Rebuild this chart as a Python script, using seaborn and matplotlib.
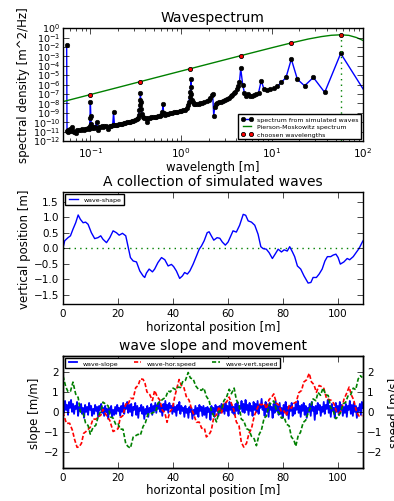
import numpy as np
import matplotlib
matplotlib.use("Agg")
import matplotlib.pyplot as plt
import seaborn as sns
from matplotlib.ticker import LogLocator, NullLocator, MultipleLocator

# spectrum from simulated waves (wavelength [m], log10 of spectral density)
spec_wl = [0.0548, 0.0553, 0.0560, 0.0570, 0.0580, 0.0592, 0.0605, 0.062, 0.064, 0.0665,
           0.0697, 0.072, 0.075, 0.078, 0.081, 0.084, 0.087, 0.090, 0.093, 0.096,
           0.098, 0.099, 0.100, 0.101, 0.102, 0.104, 0.107, 0.110, 0.113, 0.117,
           0.121, 0.124, 0.128, 0.133, 0.138, 0.143, 0.150, 0.158, 0.163, 0.170,
           0.176, 0.180, 0.184, 0.190, 0.198, 0.206, 0.215, 0.224, 0.233, 0.243,
           0.253, 0.263, 0.274, 0.285, 0.297, 0.310, 0.322, 0.332, 0.340, 0.346,
           0.350, 0.353, 0.356, 0.359, 0.363, 0.370, 0.380, 0.392, 0.405, 0.420,
           0.432, 0.450, 0.470, 0.490, 0.510, 0.530, 0.555, 0.580, 0.605, 0.620,
           0.630, 0.640, 0.660, 0.690, 0.720, 0.750, 0.790, 0.830, 0.870, 0.910,
           0.960, 1.00, 1.05, 1.10, 1.15, 1.19, 1.22, 1.24, 1.26, 1.27,
           1.28, 1.29, 1.31, 1.34, 1.38, 1.42, 1.48, 1.55, 1.62, 1.70,
           1.80, 1.90, 2.00, 2.10, 2.18, 2.22, 2.28, 2.34, 2.40, 2.50,
           2.62, 2.75, 2.90, 3.05, 3.20, 3.35, 3.50, 3.65, 3.80, 3.95,
           4.10, 4.25, 4.38, 4.52, 4.75, 4.96, 5.18, 5.43, 5.70, 6.00,
           6.33, 6.70, 7.10, 7.60, 8.14, 8.77, 9.50, 10.4, 11.4, 12.7,
           14.25, 16.3, 19.0, 22.8, 28.5, 38.0, 57.0, 114.0]
spec_log10 = [-1.77, -10.9, -11.0, -10.85, -10.95, -10.75, -10.9, -10.55, -10.95, -11.0,
              -11.1, -10.85, -10.8, -10.85, -10.75, -10.8, -10.7, -10.75, -10.65, -10.7,
              -10.4, -9.6, -7.8, -9.3, -10.2, -10.6, -10.55, -10.6, -10.5, -9.95,
              -10.8, -10.5, -10.5, -10.45, -10.5, -10.4, -10.45, -10.7, -10.4, -10.35,
              -10.3, -8.95, -10.3, -10.25, -10.25, -10.2, -10.15, -10.15, -10.1, -10.05,
              -10.0, -9.95, -9.95, -9.9, -9.85, -9.8, -9.7, -9.5, -9.2, -8.7,
              -8.2, -7.6, -6.94, -7.8, -8.6, -9.1, -9.4, -9.5, -9.6, -10.0,
              -9.55, -9.5, -9.45, -9.45, -9.4, -9.4, -9.35, -9.3, -9.2, -8.9,
              -8.07, -9.0, -9.2, -9.15, -9.1, -9.05, -9.0, -8.95, -8.95, -8.9,
              -8.85, -8.85, -8.75, -8.65, -8.5, -8.2, -7.8, -7.3, -6.8, -6.3,
              -5.43, -7.0, -7.6, -7.9, -8.05, -8.1, -8.1, -8.05, -8.0, -7.95,
              -7.85, -7.75, -7.6, -7.4, -7.15, -7.0, -9.3, -8.4, -8.1, -7.95,
              -7.85, -7.8, -7.7, -7.6, -7.5, -7.4, -7.25, -7.1, -6.9, -6.75,
              -6.5, -6.2, -5.7, -4.29, -6.0, -6.86, -7.2, -7.0, -7.2, -7.2,
              -7.1, -7.05, -6.86, -5.6, -6.45, -6.6, -6.5, -6.4, -6.2, -5.75,
              -5.24, -3.3, -5.43, -6.13, -5.24, -6.83, -2.69, -7.3]

# Pierson-Moskowitz spectrum
pm_wl = [0.05, 0.1, 0.2, 0.5, 1.0, 2.0, 5.0, 10.0, 16.0, 25.0, 35.0, 45.0, 57.0, 70.0, 85.0, 100.0]
pm_log10 = [-7.81, -7.06, -6.31, -5.31, -4.56, -3.81, -2.82, -2.08, -1.59, -1.16,
            -0.90, -0.76, -0.71, -0.77, -1.0, -1.3]

# chosen wavelengths
chosen_wl = [0.1, 0.356, 1.25, 4.5, 16.0, 57.0]
chosen_log10 = [-7.06, -5.68, -4.32, -2.93, -1.60, -0.71]

# simulated wave shape
wave_x = [0.0, 0.6, 1.8, 2.7, 3.6, 4.6, 5.5, 6.3, 7.3, 8.2, 9.1, 10.3, 11.5, 12.7, 13.7,
          14.5, 15.8, 17.0, 18.2, 19.4, 20.4, 21.6, 22.8, 23.6, 24.5, 25.5, 26.7, 27.9,
          29.1, 29.7, 30.3, 31.3, 32.5, 33.3, 34.5, 35.8, 37.0, 38.2, 39.4, 40.2, 41.2,
          42.4, 43.4, 44.2, 45.2, 46.1, 47.3, 48.5, 49.5, 50.3, 51.3, 52.4, 53.1, 53.9,
          54.8, 56.0, 57.0, 57.9, 59.0, 60.0, 61.0, 61.8, 63.0, 64.2, 65.5, 66.4, 67.3,
          68.5, 69.7, 70.9, 71.9, 72.7, 73.9, 74.9, 76.1, 77.1, 78.2, 79.4, 80.4, 81.5,
          82.4, 83.4, 84.2, 85.2, 86.4, 87.6, 89.1, 90.1, 90.9, 92.1, 93.1, 94.2, 95.2,
          96.1, 97.3, 98.2, 99.2, 100.0, 100.8, 102.1, 103.3, 104.2, 105.5, 106.7,
          107.6, 108.8, 109.5]
wave_y = [0.00, 0.24, 0.34, 0.40, 0.61, 0.82, 1.07, 0.93, 0.82, 0.84, 0.77, 0.50, 0.31,
          0.34, 0.40, 0.29, 0.18, 0.34, 0.56, 0.50, 0.42, 0.48, 0.40, 0.07, -0.30, -0.41,
          -0.44, -0.73, -0.89, -0.94, -0.80, -0.67, -0.76, -0.67, -0.46, -0.30, -0.37,
          -0.57, -0.52, -0.59, -0.73, -0.97, -0.89, -0.78, -0.83, -0.73, -0.51, -0.25,
          -0.03, 0.07, 0.24, 0.50, 0.53, 0.40, 0.26, 0.34, 0.32, 0.20, 0.10, 0.20, 0.40,
          0.56, 0.52, 0.74, 1.09, 1.06, 0.88, 0.84, 0.74, 0.45, 0.05, -0.01, -0.03, -0.14,
          -0.33, -0.19, -0.03, -0.12, -0.05, -0.09, 0.05, -0.12, -0.27, -0.57, -0.67,
          -0.89, -1.12, -1.10, -0.94, -0.94, -0.83, -0.67, -0.41, -0.27, -0.27, -0.22,
          -0.19, -0.30, -0.51, -0.44, -0.33, -0.37, -0.27, -0.12, -0.01, 0.20, 0.30]

# wave slope (left axis), evenly spaced along 0..109 m
slope = [0.45, -0.05, 0.55, 0.1, 0.35, -0.15, 0.5, 0.2, 0.6, 0.0, 0.4, -0.1, 0.3, 0.15, 0.5, -0.2, 0.25, 0.05, 0.4, -0.1,
         0.2, -0.3, 0.35, 0.0, 0.25, -0.15, 0.45, 0.1, 0.3, -0.2, 0.15, -0.1, 0.35, 0.05, 0.25, -0.25, 0.3, 0.1, 0.4, -0.05,
         0.2, -0.2, 0.3, 0.0, 0.15, -0.35, 0.2, -0.05, 0.3, -0.25, 0.1, -0.15, 0.25, -0.1, 0.35, 0.05, 0.2, -0.2, 0.3, 0.0,
         0.45, -0.1, 0.3, 0.15, 0.5, -0.05, 0.35, 0.0, 0.4, -0.2, 0.25, 0.1, 0.45, -0.15, 0.3, -0.3, 0.2, 0.05, 0.35, -0.1,
         0.25, -0.35, 0.15, -0.1, 0.3, -0.25, 0.2, 0.0, 0.4, -0.15, 0.3, 0.05, 0.45, -0.05, 0.35, 0.15, 0.5, 0.0, 0.3, -0.2,
         0.4, 0.05, 0.55, 0.1, 0.35, -0.05, 0.45, 0.2, 0.3, -0.1, 0.4, 0.0, 0.25, -0.2, 0.35, 0.1, 0.5, -0.1, 0.3, 0.05,
         0.2, -0.25, 0.3, -0.05, 0.15, -0.3, 0.25, 0.0, 0.2, -0.35, 0.1, -0.15, 0.3, -0.1, 0.2, -0.25, 0.35, 0.05, 0.25, -0.2,
         0.3, -0.15, 0.2, -0.3, 0.25, 0.0, 0.15, -0.4, 0.3, -0.1, 0.2, -0.25, 0.35, 0.05, 0.25, -0.2, 0.3, -0.05, 0.4, 0.0,
         0.35, -0.1, 0.45, 0.05, 0.3, -0.2, 0.5, 0.1, 0.35, -0.05, 0.25, -0.15, 0.4, 0.05, 0.5, -0.1, 0.3, 0.15, 0.55, 0.0,
         0.4, -0.05, 0.6, 0.1, 0.35, -0.15, 0.45, 0.05, 0.3, -0.2, 0.5, 0.1, 0.4, 0.0, 0.55, -0.1, 0.35, 0.2, 0.65, 0.1,
         0.3, -0.2, 0.5, 0.0, 0.35, -0.25, 0.45, 0.1, 0.25, -0.3, 0.4, -0.05, 0.55, 0.05, 0.3, -0.15, 0.45, -0.1, 0.2, -0.3,
         0.35, 0.0, 0.5, -0.15, 0.25, -0.35, 0.3, 0.05, 0.45, -0.2, 0.2, -0.1, 0.4, 0.1, 0.55, -0.05, 0.3, -0.25, 0.35, 0.05,
         0.45, -0.15, 0.3, -0.3, 0.2, 0.0, 0.4, -0.2, 0.5, 0.05, 0.25, -0.4, 0.3, -0.1, 0.45, 0.1, 0.35, -0.2, 0.25, 0.0,
         0.5, -0.1, 0.35, 0.15, 0.6, -0.05, 0.3, -0.25, 0.4, 0.05, 0.2, -0.3, 0.45, 0.0, 0.3, -0.15, 0.5, 0.1, 0.35, -0.2,
         0.25, -0.05, 0.4, -0.25, 0.3, 0.1, 0.55, -0.1, 0.35, -0.2, 0.45, 0.0, 0.3, -0.3, 0.2, 0.05, 0.4, -0.15, 0.5, 0.2]

# horizontal speed (right axis)
hor_x = [0.0, 1.2, 2.4, 3.4, 4.2, 5.1, 5.8, 6.7, 7.5, 8.2, 9.1, 9.9, 10.9, 11.9, 12.8, 13.7,
         14.5, 15.8, 17.0, 18.2, 19.2, 20.0, 20.8, 21.8, 22.8, 23.6, 24.5, 25.5, 26.4, 27.3,
         28.1, 29.1, 29.8, 30.5, 31.5, 32.5, 33.3, 34.2, 35.2, 36.1, 37.0, 37.8, 38.8, 39.8,
         40.6, 41.5, 42.2, 43.0, 43.9, 44.8, 45.8, 46.7, 47.5, 48.5, 49.5, 50.4, 51.4, 52.1,
         53.1, 53.9, 54.8, 55.8, 56.7, 57.6, 58.4, 59.4, 60.4, 61.2, 62.1, 63.0, 64.0, 64.8,
         65.7, 66.7, 67.6, 68.5, 69.5, 70.3, 71.3, 72.1, 73.1, 73.9, 74.9, 75.8, 76.6, 77.6,
         78.5, 79.4, 80.4, 81.2, 82.2, 83.0, 83.9, 84.8, 85.7, 86.7, 87.5, 88.5, 89.5, 90.3,
         91.2, 92.1, 93.1, 93.9, 94.8, 95.8, 96.7, 97.6, 98.5, 99.4, 100.4, 101.2, 102.1,
         103.0, 104.0, 104.8, 105.7, 106.7, 107.6, 108.8]
hor_speed = [-0.01, -0.57, -0.57, -0.92, -1.38, -1.77, -1.76, -1.57, -1.07, -1.00, -0.88, -0.77,
             -0.35, -0.37, -0.24, -0.17, 0.12, -0.18, -0.43, -0.98, -0.91, -0.84, -0.29, -0.18,
             0.40, 0.35, 0.68, 0.66, 1.21, 1.32, 1.65, 1.63, 1.43, 1.00, 0.87, 0.57, 1.07, 0.77,
             0.59, 0.08, -0.04, -0.52, -0.01, 0.18, 0.76, 1.25, 1.62, 1.32, 1.24, 0.77, 0.59,
             0.16, -0.13, -0.52, -0.51, -0.82, -0.82, -1.25, -1.13, -0.93, -0.26, -0.15, 0.26,
             -0.09, 0.46, 0.48, 0.74, 0.43, 0.09, -0.50, -0.71, -1.52, -1.76, -1.57, -1.07,
             -0.84, -0.21, 0.07, 0.40, 0.35, 0.43, 0.16, 0.62, 0.73, 0.90, 0.43, 0.34, 0.00,
             0.04, -0.18, 0.32, 0.18, 0.43, 0.50, 0.96, 1.07, 1.49, 1.60, 1.93, 1.50, 1.37,
             0.98, 1.32, 1.27, 1.18, 0.66, 0.62, 0.57, 0.40, 0.02, -0.07, 0.08, 0.62, 0.90,
             1.24, 0.85, 0.59, 0.00, -0.21, -0.18]

# vertical speed (right axis)
vert_x = [0.0, 1.0, 1.8, 2.7, 3.6, 4.6, 5.5, 6.3, 7.3, 8.2, 9.1, 9.9, 10.9, 11.9, 12.8, 13.7,
          14.5, 15.5, 16.4, 17.2, 18.2, 19.2, 20.0, 20.8, 21.8, 22.8, 23.6, 24.5, 25.5, 26.4,
          27.3, 28.1, 29.1, 29.9, 30.9, 31.8, 32.7, 33.7, 34.5, 35.4, 36.4, 37.3, 38.2, 39.0,
          40.0, 41.0, 41.8, 42.7, 43.6, 44.5, 45.5, 46.3, 47.3, 48.2, 49.2, 50.3, 51.2, 52.1,
          53.1, 53.9, 54.8, 55.8, 56.7, 57.6, 58.5, 59.4, 60.4, 61.2, 62.2, 63.0, 64.0, 64.8,
          65.7, 66.7, 67.6, 68.5, 69.5, 70.3, 71.3, 72.1, 73.1, 73.9, 74.9, 75.8, 76.6, 77.6,
          78.5, 79.4, 80.4, 81.2, 82.2, 83.0, 83.9, 84.6, 85.5, 86.3, 87.3, 88.2, 89.1, 89.9,
          90.9, 91.9, 92.7, 93.6, 94.5, 95.5, 96.4, 97.3, 98.2, 99.2, 100.0, 100.8, 101.8,
          102.7, 103.6, 104.5, 105.5, 106.4, 107.3, 108.1, 108.8]
vert_speed = [1.80, 1.25, 1.02, 1.03, 1.49, 0.89, 0.72, 0.00, -0.06, -0.56, -0.68, -1.11,
              -0.78, -0.67, -0.23, 0.03, 0.49, 0.39, 0.30, -0.25, -0.31, -0.64, -0.60, -0.86,
              -0.87, -1.59, -1.73, -1.81, -1.26, -1.19, -1.12, -1.17, -0.73, -0.56, -0.10,
              -0.11, -0.03, 0.00, 0.44, 0.53, 0.65, 0.72, 1.05, 1.00, 1.19, 1.11, 1.24, 1.22,
              1.55, 1.58, 1.97, 1.69, 1.65, 1.31, 1.13, 1.08, 1.19, 0.78, 0.57, 0.06, -0.20,
              -0.50, 0.02, 0.11, 0.57, 0.72, 1.13, 0.91, 1.19, 0.61, 0.32, -0.36, -0.45,
              -0.84, -0.90, -1.22, -1.35, -1.69, -1.12, -0.92, -0.31, -0.22, 0.32, 0.47, 0.55,
              0.08, -0.06, -0.31, -0.26, -0.61, -0.70, -1.25, -1.40, -1.72, -1.18, -1.03,
              -0.53, -0.42, -0.06, 0.19, 0.65, 0.56, 0.97, 0.83, 1.19, 0.86, 0.82, 0.22, 0.05,
              -0.34, -0.23, -0.06, 0.40, 0.47, 0.80, 0.83, 1.19, 1.11, 1.65, 1.81, 1.72]

plt.style.use("classic")
plt.rcParams["font.family"] = ["DejaVu Sans"]
plt.rcParams["mathtext.default"] = "regular"
plt.rcParams["figure.facecolor"] = "white"
plt.rcParams["savefig.facecolor"] = "white"
plt.rcParams["xtick.labelsize"] = 7.5
plt.rcParams["ytick.labelsize"] = 7.5
plt.rcParams["xtick.major.pad"] = 3
plt.rcParams["ytick.major.pad"] = 3
plt.rcParams["axes.labelsize"] = 8.5
plt.rcParams["axes.labelpad"] = 1
plt.rcParams["axes.titlesize"] = 10
plt.rcParams["legend.fontsize"] = 4.5

fig = plt.figure(figsize=(3.94, 5.02), dpi=100)
ax1 = fig.add_axes([0.160, 0.717, 0.761, 0.225])
ax2 = fig.add_axes([0.160, 0.392, 0.761, 0.223])
ax3 = fig.add_axes([0.160, 0.066, 0.761, 0.223])

# --- wavespectrum ---
ax1.set_xscale("log")
ax1.set_yscale("log")
sns.lineplot(x=spec_wl, y=np.power(10.0, spec_log10), ax=ax1, color="b", lw=1,
             marker="o", ms=3.3, mfc="k", mec="k", mew=0.4, estimator=None, sort=False)
sns.lineplot(x=pm_wl, y=np.power(10.0, pm_log10), ax=ax1, color="g", lw=1,
             estimator=None, sort=False)
sns.lineplot(x=chosen_wl, y=np.power(10.0, chosen_log10), ax=ax1, color="r", ls="none",
             marker="o", ms=3, mfc="r", mec="k", mew=0.6, estimator=None, sort=False)
ax1.vlines(chosen_wl[-1], 1e-12, 10 ** chosen_log10[-1], colors="g", linestyles=":", lw=1)
ax1.set_xlim(0.05, 100)
ax1.set_ylim(1e-12, 1)
ax1.yaxis.set_major_locator(LogLocator(base=10, subs=(1.0,), numticks=20))
ax1.yaxis.set_minor_locator(NullLocator())
ax1.tick_params(axis="y", labelsize=6.8, pad=2)
ax1.set_title("Wavespectrum")
ax1.set_xlabel("wavelength [m]")
ax1.set_ylabel("spectral density [m^2/Hz]", labelpad=2)
ax1.legend(ax1.lines[:3],
           ["spectrum from simulated waves", "Pierson-Moskowitz spectrum", "choosen wavelengths"],
           loc="lower right", handlelength=2.0, borderpad=0.4, labelspacing=0.3,
           handletextpad=0.6, borderaxespad=0.3)

# --- simulated waves ---
ax2.axhline(0, color="g", ls=":", lw=1)
sns.lineplot(x=wave_x, y=wave_y, ax=ax2, color="b", lw=1, estimator=None, sort=False)
ax2.set_xlim(0, 109)
ax2.set_ylim(-1.8, 1.8)
ax2.yaxis.set_major_locator(MultipleLocator(0.5))
ax2.set_title("A collection of simulated waves")
ax2.set_xlabel("horizontal position [m]")
ax2.set_ylabel("vertical position [m]", labelpad=2)
ax2.legend([ax2.lines[-1]], ["wave-shape"], loc="upper left", handlelength=2.0,
           borderpad=0.4, handletextpad=0.6, borderaxespad=0.3)

# --- slope and movement ---
ax3t = ax3.twinx()
slope_x = np.linspace(0, 109, len(slope))
sns.lineplot(x=slope_x, y=slope, ax=ax3, color="b", lw=1.3, estimator=None, sort=False)
sns.lineplot(x=hor_x, y=hor_speed, ax=ax3t, color="r", lw=1.2, estimator=None, sort=False)
sns.lineplot(x=vert_x, y=vert_speed, ax=ax3t, color="g", lw=1.2, estimator=None, sort=False)
for ln in ax3t.lines:
    ln.set_dashes([3, 1.5])
for a in (ax3, ax3t):
    a.set_xlim(0, 109)
    a.set_ylim(-2.8, 2.8)
    a.yaxis.set_major_locator(MultipleLocator(1))
ax3.set_title("wave slope and movement")
ax3.set_xlabel("horizontal position [m]")
ax3.set_ylabel("slope [m/m]", labelpad=2)
ax3t.set_ylabel("speed [m/s]", labelpad=4)
ax3t.legend([ax3.lines[-1], ax3t.lines[0], ax3t.lines[1]],
            ["wave-slope", "wave-hor.speed", "wave-vert.speed"],
            loc="upper left", ncol=3, handlelength=1.8, borderpad=0.4,
            handletextpad=0.6, columnspacing=2.2, borderaxespad=0.3)

fig.savefig("out.png", dpi=100)
